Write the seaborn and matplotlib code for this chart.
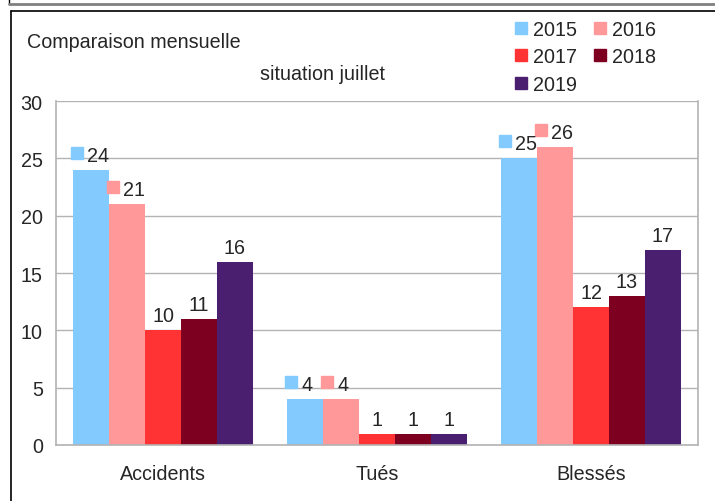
import pandas as pd
import matplotlib.pyplot as plt
import seaborn as sns
from matplotlib.lines import Line2D
from matplotlib.transforms import offset_copy

# Data
categories = ["Accidents", "Tués", "Blessés"]
years = ["2015", "2016", "2017", "2018", "2019"]
v2015 = [24, 4, 25]
v2016 = [21, 4, 26]
v2017 = [10, 1, 12]
v2018 = [11, 1, 13]
v2019 = [16, 1, 17]
colors = ["#83caff", "#ff9999", "#ff3333", "#7e0021", "#4b1f6f"]
keyed_years = ["2015", "2016"]  # labels that show a legend key

values = [v2015, v2016, v2017, v2018, v2019]
rows = []
for year, vals in zip(years, values):
    for cat, v in zip(categories, vals):
        rows.append({"Catégorie": cat, "Année": year, "Valeur": v})
df = pd.DataFrame(rows)

sns.set_style("white")
plt.rcParams["font.family"] = ["Liberation Sans", "DejaVu Sans"]
grid_col = "#b3b3b3"
fs = 14.2

fig = plt.figure(figsize=(7.15, 5.02), dpi=100)
ax = fig.add_axes([56 / 715, 1 - 446 / 502, (698 - 56) / 715, (446 - 102) / 502])

sns.barplot(data=df, x="Catégorie", y="Valeur", hue="Année", palette=colors,
            width=0.84, saturation=1, linewidth=0, ax=ax, legend=False)

# axes styling
ax.set_ylim(0, 30)
ax.set_xlim(-0.5, len(categories) - 0.5)
ax.set_yticks(range(0, 31, 5))
ax.yaxis.grid(True, color=grid_col, linewidth=1)
ax.set_axisbelow(True)
ax.set_xlabel("")
ax.set_ylabel("")
for side in ["left", "bottom", "right"]:
    ax.spines[side].set_color(grid_col)
    ax.spines[side].set_linewidth(1.2)
ax.spines["top"].set_visible(False)
ax.tick_params(axis="y", length=6.5, color=grid_col, width=1, pad=3, labelsize=fs)
ax.tick_params(axis="x", which="major", length=0, pad=14, labelsize=fs)
ax.set_xticks([i - 0.5 for i in range(len(categories) + 1)], minor=True)
ax.tick_params(axis="x", which="minor", length=6, color=grid_col, width=1)

# value labels
for year, color, cont in zip(years, colors, ax.containers):
    for bar in cont:
        x = bar.get_x() + bar.get_width() / 2
        h = bar.get_height()
        if year in keyed_years:
            tr = offset_copy(ax.transData, fig=fig, x=-14, y=17, units="dots")
            ax.plot([x], [h], marker="s", ms=8, color=color, transform=tr,
                    clip_on=False)
            ax.annotate(f"{h:.0f}", (x, h), xytext=(-4, 5), textcoords="offset pixels",
                        ha="left", va="bottom", fontsize=fs)
        else:
            ax.annotate(f"{h:.0f}", (x, h), xytext=(0, 5), textcoords="offset pixels",
                        ha="center", va="bottom", fontsize=fs)

# titles
fig.text(27 / 715, 1 - 42 / 502, "Comparaison mensuelle", ha="left", va="center", fontsize=fs)
fig.text(323 / 715, 1 - 75 / 502, "situation juillet", ha="center", va="center", fontsize=fs)

# legend: rows 2015 2016 / 2017 2018 / 2019
order = [0, 2, 4, 1, 3]
handles = [Line2D([], [], marker="s", ms=8, ls="none", color=colors[i]) for i in order]
labels = [years[i] for i in order]
fig.legend(handles, labels, ncol=2, loc="upper left",
           bbox_to_anchor=(515 / 715, 1 - 21 / 502), frameon=False,
           borderpad=0, borderaxespad=0, handlelength=0.6, handletextpad=0.3,
           labelspacing=0.42, columnspacing=0.9, fontsize=fs)

# frame lines around the chart
fig.add_artist(Line2D([9 / 715, 9 / 715], [1, 1 - 5 / 502], color="black", lw=1))
fig.add_artist(Line2D([9 / 715, 1], [1 - 5 / 502, 1 - 5 / 502], color="#808080", lw=2))
fig.add_artist(Line2D([10.5 / 715, 1], [1 - 12 / 502, 1 - 12 / 502], color="black", lw=1.2))
fig.add_artist(Line2D([10.5 / 715, 10.5 / 715], [1 - 12 / 502, 0], color="black", lw=1.2))

fig.savefig("out.png", dpi=100)
